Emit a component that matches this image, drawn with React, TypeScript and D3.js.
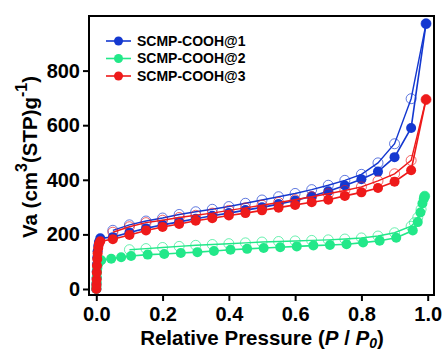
import React from "react";
import * as d3 from "d3";

// relative pressure grids
const pLow = [0.0002, 0.0005, 0.001, 0.0015, 0.002, 0.003, 0.004, 0.006, 0.008, 0.012];
const pMain = [0.05, 0.1, 0.15, 0.2, 0.25, 0.3, 0.35, 0.4, 0.45, 0.5, 0.55, 0.6, 0.65, 0.7, 0.75, 0.8, 0.85, 0.9, 0.95, 0.995];
const pDes = [0.995, 0.95, 0.9, 0.85, 0.8, 0.75, 0.7, 0.65, 0.6, 0.55, 0.5, 0.45, 0.4, 0.35, 0.3, 0.25, 0.2, 0.15, 0.1, 0.05];

// SCMP-COOH@1
const ads1Low = [0, 18, 40, 65, 90, 115, 138, 158, 172, 186];
const ads1 = [190, 207, 222, 235, 246, 257, 268, 278, 289, 299, 311, 324, 340, 358, 379, 402, 430, 483, 590, 972];
const des1 = [972, 697, 532, 462, 420, 398, 380, 364, 350, 338, 326, 314, 302, 292, 283, 273, 260, 249, 235, 215];

// SCMP-COOH@2
const pAds2 = [0.015, 0.045, 0.075, 0.105, 0.155, 0.205, 0.255, 0.305, 0.355, 0.405, 0.455, 0.505, 0.555, 0.605, 0.655, 0.705, 0.755, 0.805, 0.855, 0.905, 0.955, 0.97, 0.978, 0.984, 0.988, 0.991];
const ads2Low = [0, 10, 25, 42, 60, 75, 86, 94, 99];
const ads2 = [105, 111, 116, 121, 126, 128, 132, 135, 139, 144, 147, 150, 153, 156, 159, 161, 164, 170, 177, 188, 214, 245, 280, 313, 330, 340];
const pDes2 = [0.991, 0.98, 0.97, 0.96, 0.95, 0.9, 0.85, 0.8, 0.75, 0.7, 0.65, 0.6, 0.55, 0.5, 0.45, 0.4, 0.35, 0.3, 0.25, 0.2, 0.15, 0.1];
const des2 = [340, 292, 262, 243, 230, 206, 194, 187, 183, 180, 178, 176, 174, 172, 169, 166, 163, 160, 156, 152, 148, 144];

// SCMP-COOH@3
const ads3Low = [0, 15, 35, 60, 85, 110, 130, 150, 165, 175];
const ads3 = [182, 198, 214, 227, 238, 250, 259, 269, 278, 288, 298, 308, 318, 327, 341, 354, 370, 393, 435, 694];
const des3 = [694, 471, 422, 396, 374, 361, 349, 338, 327, 317, 307, 297, 288, 278, 270, 262, 252, 243, 228, 208];

const xTicks = [0, 0.2, 0.4, 0.6, 0.8, 1.0];
const yTicks = [0, 200, 400, 600, 800];

const series = [
  {
    name: "SCMP-COOH@1",
    color: "#1438d0",
    ads: [...pLow.map((p, i) => [p, ads1Low[i]]), ...pMain.map((p, i) => [p, ads1[i]])],
    des: pDes.map((p, i) => [p, des1[i]]),
  },
  {
    name: "SCMP-COOH@2",
    color: "#22e889",
    ads: [...pLow.slice(0, ads2Low.length).map((p, i) => [p, ads2Low[i]]), ...pAds2.map((p, i) => [p, ads2[i]])],
    des: pDes2.map((p, i) => [p, des2[i]]),
  },
  {
    name: "SCMP-COOH@3",
    color: "#ee1a1a",
    ads: [...pLow.map((p, i) => [p, ads3Low[i]]), ...pMain.map((p, i) => [p, ads3[i]])],
    des: pDes.map((p, i) => [p, des3[i]]),
  },
];

const W = 443;
const H = 352;
const margin = { top: 16, right: 9, bottom: 57, left: 89 };
const font = "'Liberation Sans', Arial, sans-serif";

const App = () => {
  const x = d3.scaleLinear().domain([-0.022, 1.019]).range([margin.left, W - margin.right]);
  const y = d3.scaleLinear().domain([-22, 1000]).range([H - margin.bottom, margin.top]);
  const line = d3.line<number[]>().x((d) => x(d[0])).y((d) => y(d[1]));
  const r = 5;

  return (
    <div style={{ position: "fixed", left: 0, top: 0 }}>
      <svg width={W} height={H} style={{ display: "block", background: "#fff" }} fontFamily={font}>
        <defs>
          <clipPath id="plot">
            <rect x={margin.left} y={margin.top - 6} width={W - margin.left - margin.right} height={H - margin.top - margin.bottom + 6} />
          </clipPath>
        </defs>
        <g clipPath="url(#plot)">
          {series.map((s) => (
            <g key={s.name}>
              <path d={line(s.des) ?? ""} fill="none" stroke={s.color} strokeWidth={1.4} />
              {s.des.map((d, i) => (
                <circle key={i} cx={x(d[0])} cy={y(d[1])} r={r} fill="none" stroke={s.color} strokeOpacity={0.75} strokeWidth={0.9} />
              ))}
              <path d={line(s.ads) ?? ""} fill="none" stroke={s.color} strokeWidth={1.6} />
              {s.ads.map((d, i) => (
                <circle key={i} cx={x(d[0])} cy={y(d[1])} r={r} fill={s.color} />
              ))}
            </g>
          ))}
        </g>

        <rect
          x={margin.left}
          y={margin.top}
          width={W - margin.left - margin.right}
          height={H - margin.top - margin.bottom}
          fill="none"
          stroke="#000"
          strokeWidth={2}
        />

        <g
          transform={`translate(${margin.left},0)`}
          ref={(node) => {
            if (node) {
              d3.select(node)
                .call(d3.axisLeft(y).tickValues(yTicks).tickSize(6).tickPadding(3).tickSizeOuter(0))
                .call((g) => g.select(".domain").remove());
              d3.select(node).selectAll("line").attr("stroke", "#000").attr("stroke-width", 2);
              d3.select(node)
                .selectAll("text")
                .attr("fill", "#000")
                .style("font-size", "20px")
                .style("font-weight", "bold")
                .style("font-family", font);
            }
          }}
        />
        <g
          transform={`translate(0,${H - margin.bottom})`}
          ref={(node) => {
            if (node) {
              d3.select(node)
                .call(d3.axisBottom(x).tickValues(xTicks).tickFormat(d3.format(".1f")).tickSize(6).tickPadding(6).tickSizeOuter(0))
                .call((g) => g.select(".domain").remove());
              d3.select(node).selectAll("line").attr("stroke", "#000").attr("stroke-width", 2);
              d3.select(node)
                .selectAll("text")
                .attr("fill", "#000")
                .style("font-size", "20px")
                .style("font-weight", "bold")
                .style("font-family", font);
            }
          }}
        />

        {/* legend */}
        {series.map((s, i) => {
          const ly = 41 + i * 17.5;
          return (
            <g key={s.name}>
              <line x1={106} x2={131} y1={ly} y2={ly} stroke={s.color} strokeWidth={1.6} />
              <circle cx={118.5} cy={ly} r={4.5} fill={s.color} />
              <text x={137} y={ly} dy="0.35em" fontSize={14} fontWeight="bold" fill="#000">
                {s.name}
              </text>
            </g>
          );
        })}

        {/* axis titles */}
        <text x={262} y={345} textAnchor="middle" fontSize={20.5} fontWeight="bold" fill="#000">
          Relative Pressure (<tspan fontStyle="italic">P</tspan> / <tspan fontStyle="italic">P</tspan>
          <tspan fontStyle="italic" fontSize={14} dy={3}>0</tspan>
          <tspan dy={-3}>)</tspan>
        </text>
        <text
          transform="translate(37,157) rotate(-90)"
          textAnchor="middle"
          fontSize={20.5}
          fontWeight="bold"
          fill="#000"
        >
          Va (cm<tspan fontSize={16} dy={-10}>3</tspan>
          <tspan dy={10}>(STP)g</tspan>
          <tspan fontSize={16} dy={-10}>-1</tspan>
          <tspan dy={10}>)</tspan>
        </text>
      </svg>
    </div>
  );
};

export default App;
